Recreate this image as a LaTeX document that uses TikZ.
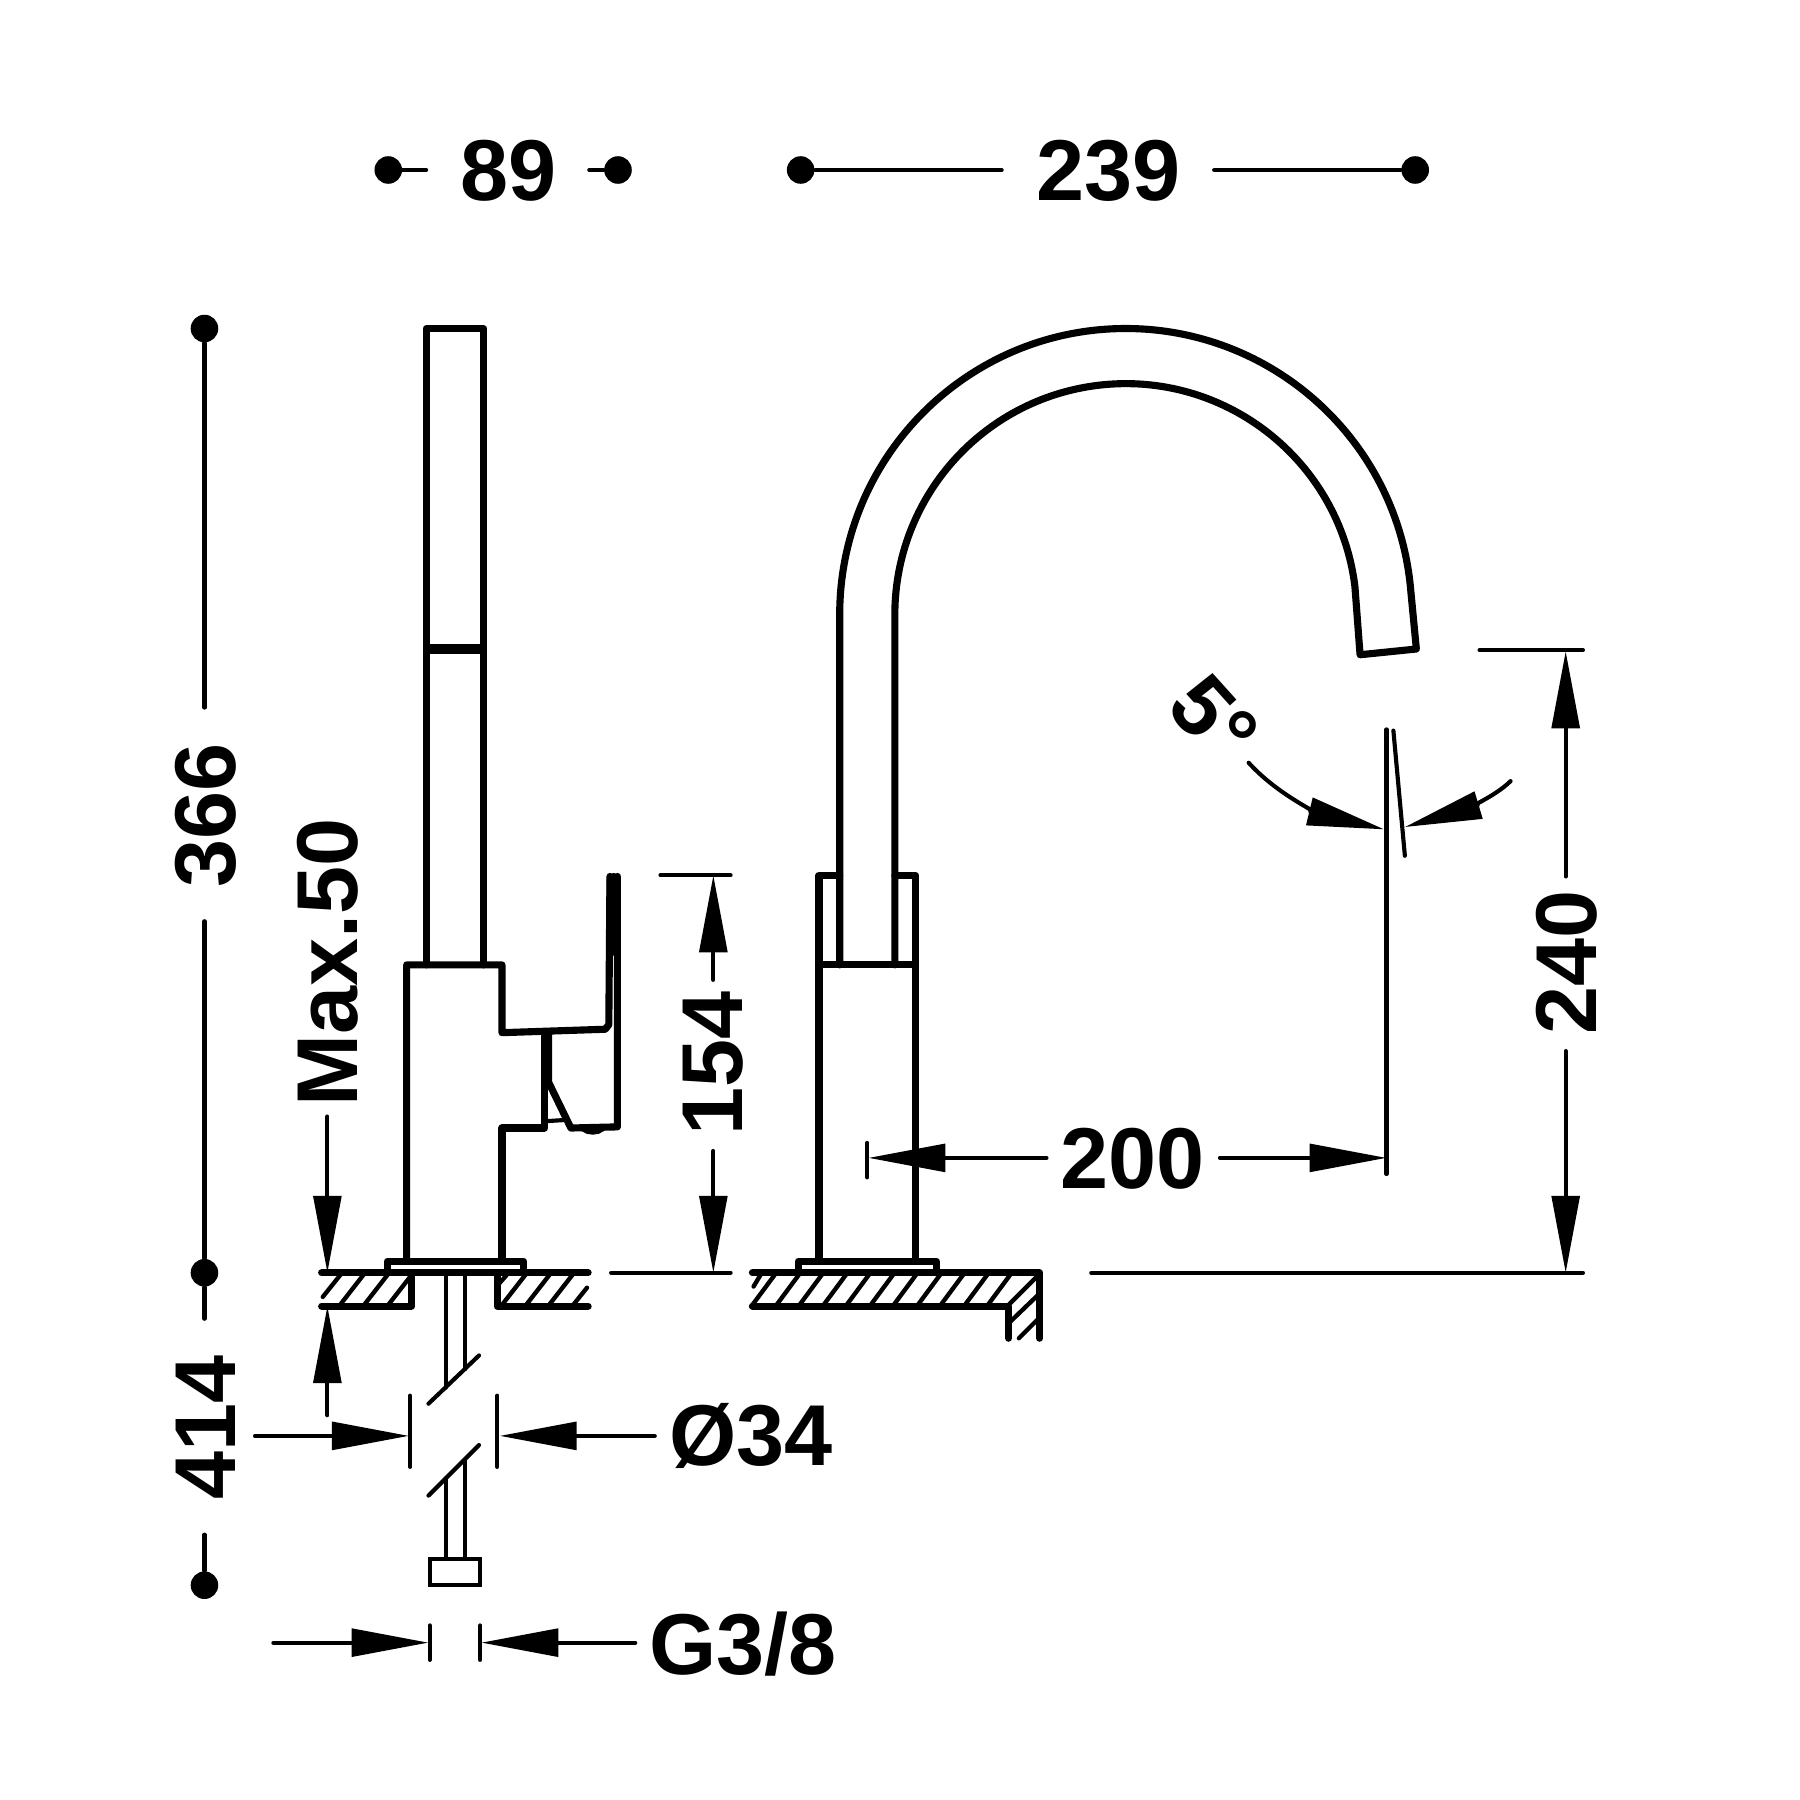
\documentclass[tikz,border=0pt]{standalone}
\usepackage{fontspec}
\setmainfont{Liberation Sans}
\usetikzlibrary{arrows.meta}

\tikzset{
  outline/.style={line width=0.62mm, line cap=round, line join=round},
  dimline/.style={line width=0.36mm, line cap=round},
  hatchline/.style={line width=0.38mm, line cap=round},
  dimarrow/.style={dimline, -{Triangle[length=6.7mm,width=2.4mm]}},
  dimtext/.style={font=\bfseries\fontsize{21.4}{24}\selectfont, inner sep=0pt},
  dimdot/.style={circle, fill=black, inner sep=0pt, minimum width=2.4mm}
}

\begin{document}
\begin{tikzpicture}[x=0.1mm, y=-0.1mm]
  \useasboundingbox (0, 0) rectangle (1567, 1567);
  \fill [white] (0, 0) rectangle (1567, 1567);

  % top dimensions
  \node [dimdot] (dotA) at (338, 148) {};
  \node [dimdot] (dotB) at (538, 148) {};
  \node [dimdot] (dotC) at (697, 148) {};
  \node [dimdot] (dotD) at (1232, 148) {};
  \node [dimtext] (lblWidth) at (443, 149) {89};
  \node [dimtext] (lblReach) at (965, 149) {239};
  \draw [dimline] (dotA) -- (371, 148);
  \draw [dimline] (513, 148) -- (dotB);
  \draw [dimline] (dotC) -- (872, 148);
  \draw [dimline] (1057, 148) -- (dotD);

  % left dimensions
  \node [dimdot] (dotE) at (178, 286) {};
  \node [dimdot] (dotF) at (178, 1108) {};
  \node [dimdot] (dotG) at (178, 1380) {};
  \node [dimtext, rotate=90] (lblHeight) at (179, 710) {366};
  \node [dimtext, rotate=90] (lblDepth) at (179, 1243) {414};
  \node [dimtext, rotate=90] (lblMax) at (285, 838) {Max.50};
  \draw [dimline] (dotE) -- (178, 616);
  \draw [dimline] (178, 802) -- (dotF) -- (178, 1148);
  \draw [dimline] (178, 1336) -- (dotG);
  \draw [dimarrow] (285, 972) -- (285, 1108);
  \draw [dimarrow] (285, 1232) -- (285, 1137);

  % side view, spout
  \draw [outline] (371, 840) -- (371, 286) -- (421, 286) -- (421, 840);
  \draw [line width=0.95mm] (371, 565) -- (421, 565);

  % side view, body and lever
  \draw [outline] (354, 1098) -- (354, 840) -- (437, 840) -- (437, 899)
    -- (527, 896) -- (530, 892) -- (531, 763);
  \draw [outline] (437, 1098) -- (437, 982) -- (474, 982) -- (474, 900);
  \draw [outline] (477.5, 900) -- (477.5, 942) -- (497, 982) -- (537.5, 981) -- (537.5, 763);
  \draw [dimline] (476, 976) -- (492, 975);
  \draw [dimline] (507, 983) .. controls (512, 987) and (520, 987) .. (525, 983);
  \fill [black, rounded corners=2] (528, 760) -- (540.5, 760) -- (540.5, 832) -- (528, 832) -- cycle;

  % side view, deck
  \draw [outline] (337, 1108) -- (337, 1098) -- (456, 1098) -- (456, 1108);
  \draw [outline] (280, 1108) -- (512, 1108);
  \draw [outline] (280, 1137) -- (358, 1137) -- (358, 1108);
  \draw [outline] (433, 1108) -- (433, 1137) -- (512, 1137);
  \foreach \xa in {296, 317, 338}
    \draw [hatchline] (\xa, 1136) -- ({\xa + 21}, 1109);
  \draw [hatchline] (281, 1129) -- (297, 1109);
  \draw [hatchline] (434, 1118) -- (441, 1110);
  \foreach \xa in {437, 458, 478}
    \draw [hatchline] (\xa, 1136) -- ({\xa + 21}, 1109);
  \draw [hatchline] (499, 1136) -- (511, 1121);

  % tails
  \draw [dimline] (388, 1108) -- (388, 1208);
  \draw [dimline] (405, 1108) -- (405, 1192);
  \draw [dimline] (373, 1222) -- (417, 1180);
  \draw [dimline] (373, 1302) -- (417, 1258);
  \draw [dimline] (388, 1287) -- (388, 1357);
  \draw [dimline] (405, 1272) -- (405, 1357);
  \draw [dimline] (374, 1357) rectangle (418, 1380);

  % tail and thread sizes
  \node [dimtext] (lblBore) at (654, 1250) {Ø34};
  \node [dimtext] (lblThread) at (647, 1431) {G3/8};
  \draw [dimline] (357, 1215) -- (357, 1277);
  \draw [dimline] (433, 1215) -- (433, 1277);
  \draw [dimarrow] (222, 1250) -- (356, 1250);
  \draw [dimarrow] (570, 1250) -- (435, 1250);
  \draw [dimline] (374, 1415) -- (374, 1445);
  \draw [dimline] (418, 1415) -- (418, 1445);
  \draw [dimarrow] (238, 1430) -- (373, 1430);
  \draw [dimarrow] (553, 1430) -- (419, 1430);

  % lever height
  \node [dimtext, rotate=90] (lblLever) at (621, 926) {154};
  \draw [dimline] (575, 762) -- (636, 762);
  \draw [dimline] (532, 1108) -- (636, 1108);
  \draw [dimarrow] (621, 853) -- (621, 762);
  \draw [dimarrow] (621, 1002) -- (621, 1108);

  % front view, swan neck
  \draw [outline] (731, 840) -- (731, 535) arc [start angle=180, end angle=354, radius=249]
    -- (1233, 565) -- (1184, 570) -- (1179.5, 510.5) arc [start angle=353, end angle=180, radius=201]
    -- (779, 840);

  % front view, body
  \draw [outline] (713, 1098) -- (713, 762) -- (731, 762);
  \draw [outline] (779, 762) -- (797, 762) -- (797, 1098);
  \draw [outline] (713, 840) -- (797, 840);
  \draw [outline] (695, 1108) -- (695, 1098) -- (815, 1098) -- (815, 1108);

  % front view, deck
  \draw [outline] (655, 1108) -- (905, 1108) -- (905, 1165);
  \draw [outline] (655, 1137) -- (878, 1137) -- (878, 1165);
  \foreach \xa in {655, 676, 696, 717, 737, 758, 778, 799, 819, 840, 860}
    \draw [hatchline] (\xa, 1136) -- ({\xa + 20}, 1109);
  \draw [hatchline] (656, 1120) -- (662, 1110);
  \draw [hatchline] (878, 1136) -- (904, 1110);
  \draw [hatchline] (878, 1152) -- (904, 1127);
  \draw [hatchline] (887, 1165) -- (904, 1148);

  % reach and spout height
  \node [dimtext] (lblCentre) at (986, 1009) {200};
  \node [dimtext, rotate=90] (lblSpout) at (1364, 838) {240};
  \draw [dimline] (755, 995) -- (755, 1025);
  \draw [dimline] (1207, 635) -- (1207, 1022);
  \draw [dimarrow] (911, 1008) -- (756, 1008);
  \draw [dimarrow] (1062, 1008) -- (1207, 1008);
  \draw [dimline] (1288, 566) -- (1378, 566);
  \draw [dimline] (950, 1108) -- (1378, 1108);
  \draw [dimarrow] (1363, 763) -- (1363, 567);
  \draw [dimarrow] (1363, 915) -- (1363, 1108);

  % tilt of the spout
  \node [dimtext, rotate=-48] (lblTilt) at (1057, 626) {5°};
  \draw [dimline] (1213, 636) -- (1223, 745);
  \draw [dimarrow] (1087, 664) .. controls (1115, 695) and (1155, 710) .. (1205, 722);
  \draw [dimarrow] (1315, 680) .. controls (1300, 695) and (1270, 706) .. (1223, 720);
\end{tikzpicture}
\end{document}
